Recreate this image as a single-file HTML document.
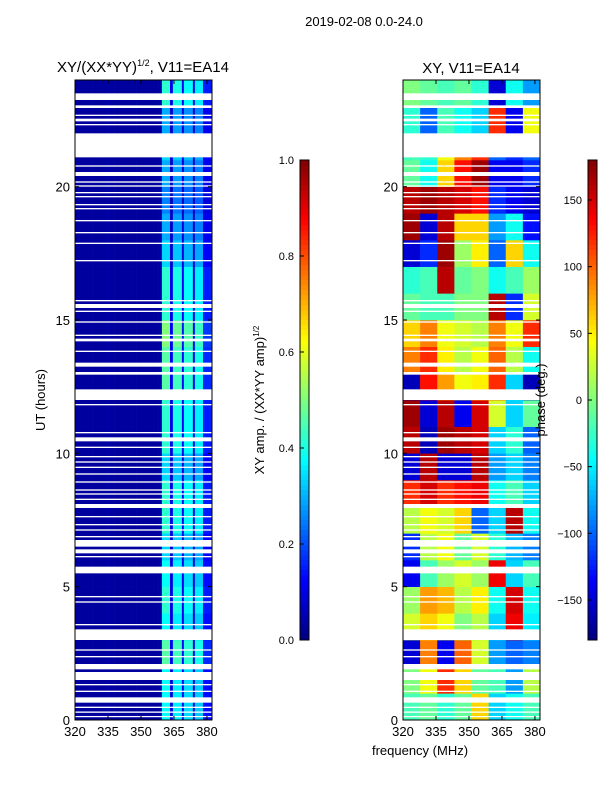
<!DOCTYPE html>
<html><head><meta charset="utf-8"><style>
body{margin:0;background:#fff;}
svg text{font-family:"Liberation Sans","DejaVu Sans",sans-serif;fill:#000;}
</style></head><body>
<svg id="fig" width="600" height="800" viewBox="0 0 600 800" xmlns="http://www.w3.org/2000/svg">
<text x="364" y="26" font-size="13" text-anchor="middle">2019-02-08 0.0-24.0</text>
<text x="143" y="72" font-size="15" text-anchor="middle">XY/(XX*YY)<tspan font-size="9" dy="-6">1/2</tspan><tspan dy="6">, V11=EA14</tspan></text>
<text x="471" y="73" font-size="15" text-anchor="middle">XY, V11=EA14</text>
<text x="45" y="400" font-size="13" text-anchor="middle" transform="rotate(-90 45 400)">UT (hours)</text>
<text x="420" y="755" font-size="13" text-anchor="middle">frequency (MHz)</text>
<text x="264" y="400" font-size="13" text-anchor="middle" transform="rotate(-90 264 400)">XY amp. / (XX*YY amp)<tspan font-size="8" dy="-5">1/2</tspan></text>
<g id="left"></g>
<g id="right"></g>
<g id="axes"></g>
<g id="cbars"></g>
<text x="545" y="400" font-size="13" text-anchor="middle" transform="rotate(-90 545 400)">phase (deg.)</text>
</svg>
<script>
// ---- data ----
const gapsHours = [[23.25,23.5],[22.95,23.05],[22.65,22.7],[22.45,22.55],[22.3,22.35],[21.1,22.0],[20.75,20.8],[20.4,20.55],[20.15,20.2],[20.0,20.05],[19.75,19.8],[19.6,19.65],[19.3,19.35],[19.15,19.2],[18.7,18.75],[18.25,18.3],[17.85,17.9],[17.2,17.25],[15.7,15.75],[15.45,15.6],[15.3,15.35],[14.9,14.95],[14.4,14.45],[14.2,14.3],[13.8,13.85],[13.25,13.4],[12.95,13.05],[12.0,12.4],[11.8,11.85],[10.75,10.8],[10.45,10.6],[10.2,10.25],[9.85,9.9],[9.65,9.7],[9.45,9.5],[9.2,9.25],[8.9,8.95],[8.6,8.65],[8.45,8.5],[8.25,8.3],[7.95,8.1],[7.6,7.65],[7.3,7.35],[7.1,7.15],[6.85,6.9],[6.5,6.75],[6.25,6.4],[6.1,6.15],[5.5,5.75],[4.6,4.65],[4.4,4.45],[3.55,3.6],[3.0,3.4],[2.6,2.65],[2.35,2.4],[1.9,2.1],[1.5,1.8],[1.3,1.35],[1.05,1.1],[0.65,0.85],[0.45,0.5],[0.27,0.32],[0.12,0.15]];
const ampFreqBins = [320,322,324,326,328,330,332,334,336,338,340,342,344,346,348,350,352,354,356,358,359.5,363.2,364.5,368.6,369.5,373.6,374.5,378.2,382.3];
const ampColValues = [0.03,0.03,0.03,0.03,0.03,0.03,0.03,0.04,0.03,0.03,0.03,0.03,0.03,0.03,0.03,0.03,0.03,0.03,0.03,0.04,0.42,0.1,0.4,0.12,0.38,0.1,0.36,0.15];
const ampRowFactor = [0.9,0.9,1.1,0.9,1.0,0.9,0.8,1.0,1.0,0.8,1.0,1.0,1.1,1.1,1.2,1.0,1.0,0.8,0.7,0.6,0.7,0.8,0.7,1.0];
const phaseRows = [
[-20,-10,-30,-10,60,-60,-40,-20],
[0,40,120,60,-10,-20,-80,20],
[-150,90,-140,100,30,-80,-100,-90],
[30,60,40,0,20,-60,140,-50],
[10,80,70,20,50,-40,150,-40],
[-140,-20,10,30,10,140,-60,-20],
[-120,20,40,-10,30,-30,-70,-90],
[20,40,30,60,-100,-60,160,-40],
[120,150,120,130,140,-40,-20,-60],
[-150,160,-150,-150,160,-80,-60,-90],
[160,-160,170,160,150,-60,-30,-100],
[170,-150,160,-140,150,30,-60,-10],
[-160,130,80,40,50,120,-60,-160],
[90,120,50,20,40,100,20,-40],
[60,90,40,30,20,90,40,120],
[-10,-20,-20,0,0,160,-120,30],
[-30,-20,160,-10,0,-40,-20,10],
[-150,-120,170,10,50,-100,60,-40],
[170,-150,160,60,60,-80,-40,-130],
[160,170,160,150,130,-120,-140,-150],
[-10,-40,60,130,170,-140,-140,-120],
[-20,-30,40,90,120,-100,-120,-100],
[-30,-100,-20,-40,-60,120,-140,40],
[0,-10,-20,-10,-30,-150,-40,-80]];
const xTicks = [320,335,350,365,380];
const yTicks = [0,5,10,15,20];
const ampTicks = [0.0,0.2,0.4,0.6,0.8,1.0];
const phaseTicks = [-150,-100,-50,0,50,100,150];
// ---- helpers ----
const NS="http://www.w3.org/2000/svg";
function jet(v){v=Math.max(0,Math.min(1,v));
 const r=Math.max(0,Math.min(1,1.5-Math.abs(4*v-3))),g=Math.max(0,Math.min(1,1.5-Math.abs(4*v-2))),b=Math.max(0,Math.min(1,1.5-Math.abs(4*v-1)));
 return `rgb(${Math.round(r*255)},${Math.round(g*255)},${Math.round(b*255)})`;}
function mk(p,tag,a){const e=document.createElementNS(NS,tag);for(const k in a)e.setAttribute(k,a[k]);p.appendChild(e);return e;}
const Y0=720,Y1=80,yS=h=>Y0-(Y0-Y1)*h/24;
function xS(x0,x1){return f=>x0+(x1-x0)*(f-320)/(382.3-320);}
const xL=xS(75,212), xR=xS(403,540);
const L=document.getElementById('left'),R=document.getElementById('right'),A=document.getElementById('axes'),C=document.getElementById('cbars');
for(let h=0;h<24;h++){for(let c=0;c<ampColValues.length;c++){
 const x=xL(ampFreqBins[c]),w=xL(ampFreqBins[c+1])-x;
 const r=mk(L,'rect',{x:x,y:yS(h+1),width:w+0.3,height:yS(h)-yS(h+1)+0.3,fill:jet(c>=20?ampColValues[c]*ampRowFactor[h]:ampColValues[c])});
 
 
}}
for(let h=0;h<24;h++){for(let c=0;c<8;c++){
 const f0=320+c*(62.3/8),f1=f0+62.3/8;
 const r=mk(R,'rect',{x:xR(f0),y:yS(h+1),width:xR(f1)-xR(f0)+0.3,height:yS(h)-yS(h+1)+0.3,fill:jet((phaseRows[h][c]+180)/360)});
 
 
}}
for(const [a,b] of gapsHours){for(const [g,x0] of [[L,75],[R,403]]){
 const r=mk(g,'rect',{x:x0,y:yS(b),width:137,height:Math.max(1.2,yS(a)-yS(b)),fill:'#fff'});
 
 
}}
for(const [x0,xs] of [[75,xL],[403,xR]]){
 const fr=mk(A,'rect',{x:x0,y:80,width:137,height:640,fill:'none',stroke:'#000','stroke-width':1});
 
 
 for(const t of xTicks){const x=xs(t);
  mk(A,'line',{x1:x,x2:x,y1:720,y2:716,stroke:'#000'});mk(A,'line',{x1:x,x2:x,y1:80,y2:84,stroke:'#000'});
  const tx=mk(A,'text',{x:x,y:736,'font-size':13,'text-anchor':'middle'});tx.textContent=t;
  
  }
 for(const t of yTicks){const y=yS(t);
  mk(A,'line',{x1:x0,x2:x0+4,y1:y,y2:y,stroke:'#000'});mk(A,'line',{x1:x0+137,x2:x0+133,y1:y,y2:y,stroke:'#000'});
  const tx=mk(A,'text',{x:x0-5,y:y+5,'font-size':13,'text-anchor':'end'});tx.textContent=t;
  
  }
}
for(const [x0,ticks,lo,hi,fmt] of [[300,ampTicks,0,1,v=>v.toFixed(1)],[588,phaseTicks,-180,180,v=>String(v).replace('-','\u2212')]]){
 for(let i=0;i<96;i++){mk(C,'rect',{x:x0,y:640-(i+1)*5,width:9,height:5.3,fill:jet((i+0.5)/96)});}
 const fr=mk(C,'rect',{x:x0,y:160,width:9,height:480,fill:'none',stroke:'#000'});
 
 
 for(const t of ticks){const y=640-480*(t-lo)/(hi-lo);
  mk(C,'line',{x1:x0,x2:x0+4,y1:y,y2:y,stroke:'#000'});
  const tx=mk(C,'text',{x:x0-6,y:y+4,'font-size':11,'text-anchor':'end'});tx.textContent=fmt(t);
  
  }
}
</script>
</body></html>
